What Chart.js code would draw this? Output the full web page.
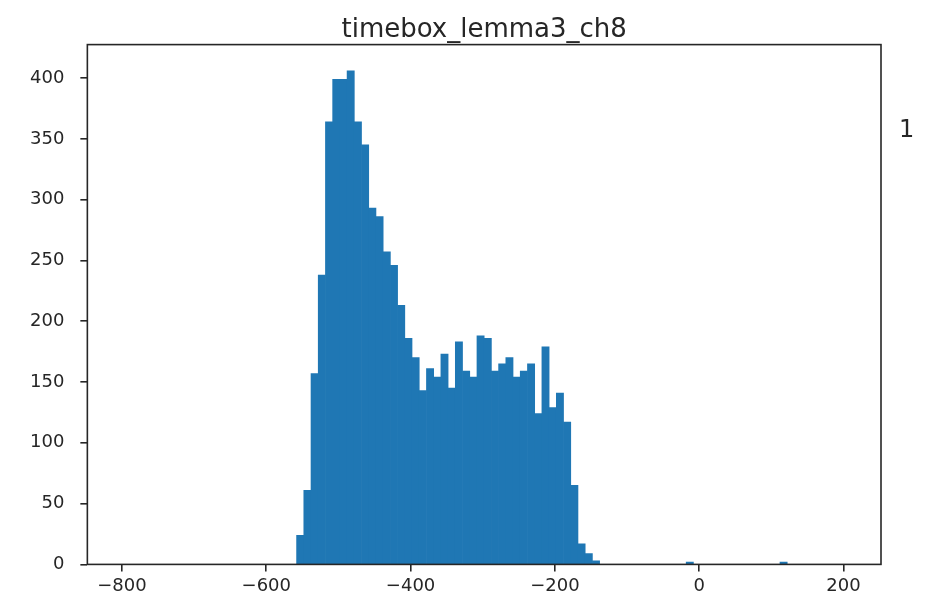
<!DOCTYPE html>
<html>
<head>
<meta charset="utf-8">
<script src="https://cdn.jsdelivr.net/npm/chart.js@4/dist/chart.umd.min.js"></script>
<style>
  html, body { margin: 0; padding: 0; background: #ffffff; }
  #wrap { width: 927px; height: 601px; }
</style>
</head>
<body>
<div id="wrap"><canvas id="chart"></canvas></div>
<script>
// histogram bins (centres, width 10) and counts
var binCentres = [-553, -543, -533, -523, -513, -503, -493, -483, -473, -463,
                  -453, -443, -433, -423, -413, -403, -393, -383, -373, -363,
                  -353, -343, -333, -323, -313, -303, -293, -283, -273, -263,
                  -253, -243, -233, -223, -213, -203, -193, -183, -173, -163,
                  -153, -143, -13, 117];
var counts     = [24, 61, 157, 238, 364, 399, 399, 406, 364, 345,
                  293, 286, 257, 246, 213, 186, 170, 143, 161, 154,
                  173, 145, 183, 159, 154, 188, 186, 159, 165, 170,
                  154, 159, 165, 124, 179, 129, 141, 117, 65, 17,
                  9, 3, 2, 2];
var xTicks = [-800, -600, -400, -200, 0, 200];
var yTicks = [0, 50, 100, 150, 200, 250, 300, 350, 400];
var chartTitle = "timebox_lemma3_ch8";
var sideText = "1";

var barColour = "#1f77b4";
var inkColour = "#262626";
var fontName = "'DejaVu Sans', sans-serif";

var points = [];
for (var i = 0; i < binCentres.length; i++) {
	points.push({ x: binCentres[i], y: counts[i] });
}

// matplotlib style box round the axes, plus the stray label at the right
var framePlugin = {
	id: "frame",
	afterDraw: function(chart) {
		var ctx = chart.ctx;
		var a = chart.chartArea;
		ctx.save();
		ctx.strokeStyle = inkColour;
		ctx.lineWidth = 1.6;
		ctx.strokeRect(a.left, a.top, a.right - a.left, a.bottom - a.top);
		ctx.fillStyle = inkColour;
		ctx.font = "24px " + fontName;
		ctx.textAlign = "left";
		ctx.textBaseline = "alphabetic";
		ctx.fillText(sideText, 899, 137);
		ctx.restore();
	}
};

var ctx = document.getElementById("chart");
var myChart = new Chart(ctx, {
	type: "bar",
	data: {
		datasets: [{
			data: points,
			backgroundColor: barColour,
			borderWidth: 0,
			barPercentage: 1.0,
			categoryPercentage: 1.0
		}]
	},
	options: {
		responsive: true,
		maintainAspectRatio: false,
		animation: false,
		layout: { padding: { left: 14, right: 46, top: 0, bottom: 0 } },
		plugins: {
			legend: { display: false },
			tooltip: { enabled: false },
			title: {
				display: true,
				text: chartTitle,
				fullSize: false,
				color: inkColour,
				font: { family: fontName, size: 26, weight: "normal", lineHeight: 1.1 },
				padding: { top: 16, bottom: 0 }
			}
		},
		scales: {
			x: {
				type: "linear",
				min: -848,
				max: 252,
				offset: false,
				afterBuildTicks: function(scale) {
					scale.ticks = xTicks.map(function(v) { return { value: v }; });
				},
				ticks: {
					color: inkColour,
					font: { family: fontName, size: 18 },
					padding: 4,
					maxRotation: 0,
					autoSkip: false,
					callback: function(v) { return String(v).replace("-", "\u2212"); }
				},
				grid: {
					offset: false,
					drawOnChartArea: false,
					drawTicks: true,
					tickLength: 7,
					color: inkColour,
					lineWidth: 1.6
				},
				border: { display: false }
			},
			y: {
				min: 0,
				max: 427.5,
				afterBuildTicks: function(scale) {
					scale.ticks = yTicks.map(function(v) { return { value: v }; });
				},
				ticks: {
					color: inkColour,
					font: { family: fontName, size: 18 },
					padding: 16
				},
				grid: {
					drawOnChartArea: false,
					drawTicks: true,
					tickLength: 7,
					color: inkColour,
					lineWidth: 1.6
				},
				border: { display: false }
			}
		}
	},
	plugins: [framePlugin]
});
</script>
</body>
</html>
